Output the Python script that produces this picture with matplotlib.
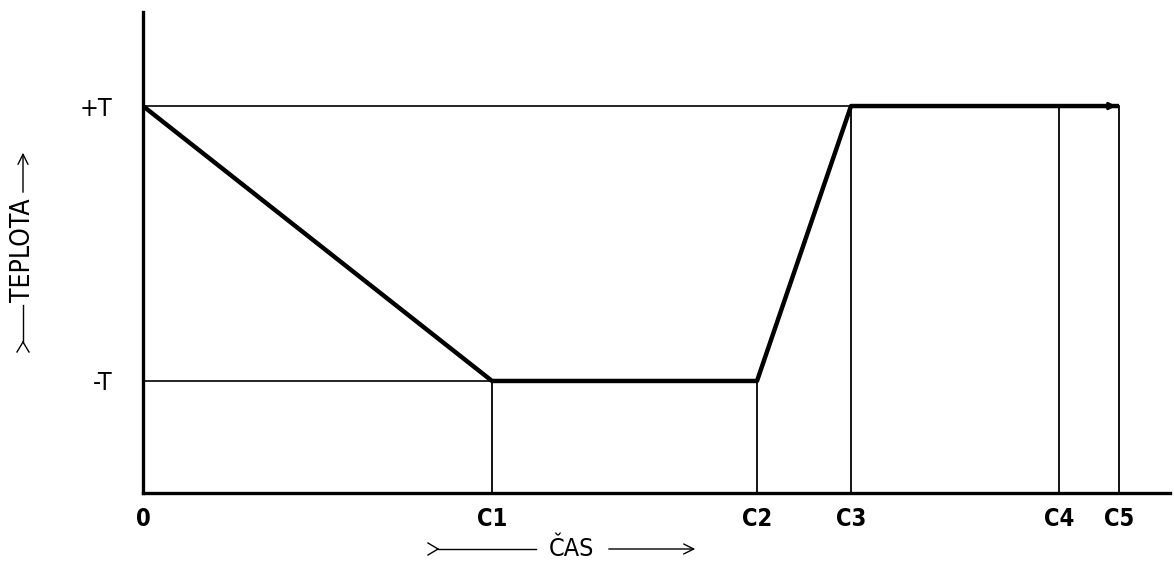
import matplotlib.pyplot as plt
from matplotlib import font_manager

# time marks (C1..C5) and temperature levels
time_labels = ['0', 'C1', 'C2', 'C3', 'C4', 'C5']
time_points = [0.0, 3.49, 6.14, 7.08, 9.16, 9.76]
temp_labels = ['-T', '+T']
temp_levels = [-1.0, 1.0]

# temperature profile
profile_t = [0.0, 3.49, 6.14, 7.08, 9.76]
profile_temp = [1.0, -1.0, -1.0, 1.0, 1.0]

x_max = 10.27
y_min, y_max = -1.815, 1.684

cond = [f for f in font_manager.fontManager.ttflist
        if f.name == 'DejaVu Sans' and f.stretch == 'condensed']
stretch = 'condensed' if cond else 'normal'

W, H = 1174, 565
fig = plt.figure(figsize=(W / 100, H / 100), dpi=100)

# overlay in pixel coordinates for the hand drawn axis captions
ov = fig.add_axes([0, 0, 1, 1])
ov.set_xlim(0, W)
ov.set_ylim(H, 0)
ov.axis('off')

ax = fig.add_axes([143 / W, (H - 493) / H, (1170 - 143) / W, (493 - 12) / H])
ax.set_xlim(0, x_max)
ax.set_ylim(y_min, y_max)
ax.patch.set_alpha(0)

for s in ['top', 'right']:
    ax.spines[s].set_visible(False)
ax.spines['left'].set_linewidth(2.4)
ax.spines['bottom'].set_linewidth(2.4)

# thin guide lines
ax.plot([0, time_points[3]], [temp_levels[1]] * 2, color='black', lw=1.2)
ax.plot([0, time_points[1]], [temp_levels[0]] * 2, color='black', lw=1.2)
for i, t in enumerate(time_points[1:], start=1):
    top = temp_levels[0] if i <= 2 else temp_levels[1]
    ax.plot([t, t], [y_min, top], color='black', lw=1.3)

# thick profile
ax.plot(profile_t, profile_temp, color='black', lw=3.2, solid_capstyle='butt')
ax.annotate('', xy=(profile_t[-1], profile_temp[-1]),
            xytext=(profile_t[-1] - 0.3, profile_temp[-1]),
            arrowprops=dict(arrowstyle='-|>', color='black', lw=2, mutation_scale=10))

ax.set_xticks(time_points)
ax.set_xticklabels(time_labels, fontstretch=stretch, fontweight='bold', fontsize=17)
ax.set_yticks(temp_levels)
ax.set_yticklabels(temp_labels, fontstretch=stretch, fontsize=18)
ax.tick_params(axis='x', length=0, pad=10)
ax.tick_params(axis='y', length=0, pad=22)

# bottom caption: >---- ČAS ---->
yc = 549
ov.plot([428, 438], [yc - 6, yc], color='black', lw=1)
ov.plot([428, 438], [yc + 6, yc], color='black', lw=1)
ov.plot([438, 536], [yc, yc], color='black', lw=1)
ov.text(571, yc, 'ČAS', fontstretch=stretch, fontsize=18, ha='center', va='center')
ov.annotate('', xy=(698, yc), xytext=(606, yc),
            arrowprops=dict(arrowstyle='->', color='black', lw=1, mutation_scale=18))

# left caption, rotated
xc = 23
ov.plot([xc - 6, xc], [352, 342], color='black', lw=1)
ov.plot([xc + 6, xc], [352, 342], color='black', lw=1)
ov.plot([xc, xc], [342, 305], color='black', lw=1)
ov.text(xc, 250, 'TEPLOTA', fontstretch=stretch, fontsize=19, rotation=90,
        ha='center', va='center')
ov.annotate('', xy=(xc, 150), xytext=(xc, 195),
            arrowprops=dict(arrowstyle='->', color='black', lw=1, mutation_scale=18))

fig.savefig('out.png', dpi=100)
